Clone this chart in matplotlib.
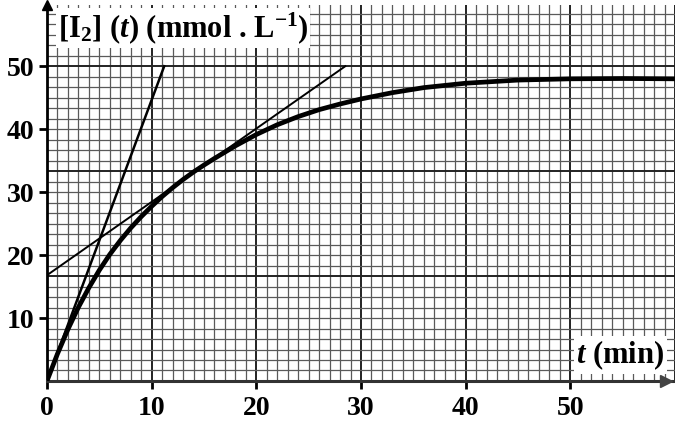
import numpy as np
import matplotlib
matplotlib.use('Agg')
from matplotlib import pyplot as plt

# values
t_min = [0, 1, 2, 3, 4, 5, 6, 7, 8, 9, 10, 11, 12, 13, 14, 15, 16, 18, 20, 22, 24, 26, 28,
         30, 33, 36, 40, 45, 50, 55, 60]
conc = [0, 4.3, 8.2, 11.7, 14.8, 17.6, 20.1, 22.3, 24.3, 26.1, 27.75, 29.3, 30.7, 32.0,
        33.2, 34.3, 35.35, 37.35, 39.15, 40.7, 42.0, 43.1, 44.0, 44.8, 45.8, 46.6, 47.3,
        47.8, 48.0, 48.05, 48.0]

tangent0_t = [0, 11.2]
tangent0_c = [0, 50]
tangent1_t = [0, 28.5]
tangent1_c = [16.8, 50]

x_ticks = [0, 10, 20, 30, 40, 50]
y_ticks = [10, 20, 30, 40, 50]

plt.rcParams['font.family'] = ['Liberation Serif', 'DejaVu Serif']
plt.rcParams['font.weight'] = 'bold'
plt.rcParams['mathtext.fontset'] = 'custom'
plt.rcParams['mathtext.rm'] = 'Liberation Serif:bold'
plt.rcParams['mathtext.it'] = 'Liberation Serif:italic:bold'
plt.rcParams['mathtext.bf'] = 'Liberation Serif:bold'

fig = plt.figure(figsize=(6.75, 4.3), dpi=100)
ax = fig.add_axes([0.0696, 0.114, 0.9304, 0.874])
ax.set_xlim(0, 60)
ax.set_ylim(0, 59.7)

# graph paper
for x in np.arange(1, 61, 1):
    major = x % 10 == 0
    ax.axvline(x, color='#222222' if major else '#5a5a5a', lw=1.4 if major else 0.9, zorder=1)
for y in np.arange(10 / 6, 60, 10 / 6):
    major = abs(y / (50 / 3) - round(y / (50 / 3))) < 1e-6
    ax.axhline(y, color='#222222' if major else '#5a5a5a', lw=1.4 if major else 0.9, zorder=1)

ax.plot(tangent0_t, tangent0_c, color='black', lw=1.8, zorder=3)
ax.plot(tangent1_t, tangent1_c, color='black', lw=1.4, zorder=3)
ax.plot(t_min, conc, color='black', lw=3.4, solid_capstyle='round', solid_joinstyle='round', zorder=4)

for s in ['top', 'right']:
    ax.spines[s].set_visible(False)
ax.spines['left'].set_linewidth(2)
ax.spines['bottom'].set_linewidth(2.2)
ax.spines['bottom'].set_color('#333333')
ax.plot(0, 1.0, '^', color='black', ms=7, transform=ax.get_xaxis_transform(), clip_on=False, zorder=6)
ax.plot(0.985, 0, '>', color='#444444', ms=8, transform=ax.get_yaxis_transform(), clip_on=False, zorder=6)

ax.set_xticks(x_ticks)
ax.set_yticks(y_ticks)
ax.tick_params(axis='both', direction='out', length=6, width=2, labelsize=20, pad=3)
ax.tick_params(axis='x', pad=5)
for lab in ax.get_xticklabels() + ax.get_yticklabels():
    lab.set_fontweight('bold')

ax.text(0.017, 0.94, r'[I$_2$] ($t$) (mmol . L$^{-1}$)', transform=ax.transAxes,
        fontsize=22, fontweight='bold', va='center', ha='left',
        bbox=dict(facecolor='white', edgecolor='none', pad=1.5), zorder=7)
ax.text(0.843, 0.069, r'$t$ (min)', transform=ax.transAxes, fontsize=22, fontweight='bold',
        va='center', ha='left', bbox=dict(facecolor='white', edgecolor='none', pad=1.5), zorder=7)

fig.savefig('out.png', dpi=100)
